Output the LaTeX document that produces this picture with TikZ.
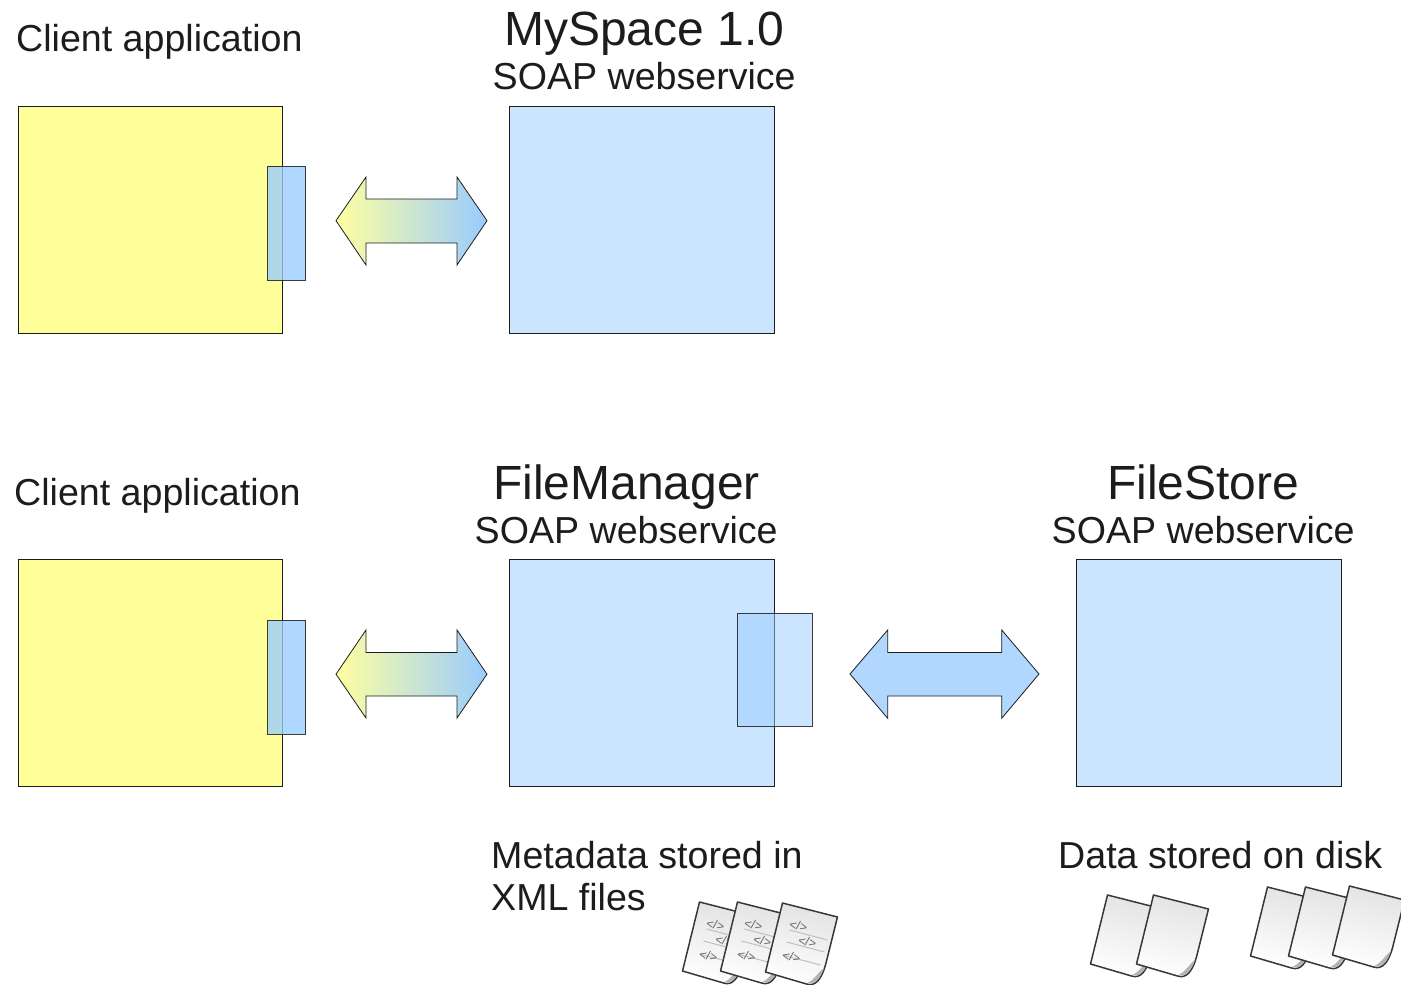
\documentclass[tikz,border=0pt]{standalone}
\usepackage{fontspec}
\setmainfont{Liberation Sans}
\usetikzlibrary{shadings}
\definecolor{boxyellow}{HTML}{FFFF99}
\definecolor{boxblue}{HTML}{CCE5FF}
\definecolor{portblue}{HTML}{99CCFF}
\definecolor{inkc}{HTML}{1C1C1C}
\definecolor{solidarrow}{HTML}{B2D7FF}
\tikzset{
  x=1pt,y=-1pt,
  bigbox/.style={draw=inkc,line width=0.8pt,rectangle,anchor=north west,inner sep=0pt,minimum width=264.6pt,minimum height=226.6pt},
  leftbox/.style={bigbox,minimum width=264.2pt,fill=boxyellow},
  narrowport/.style={draw=inkc,line width=0.8pt,rectangle,anchor=north west,inner sep=0pt,minimum width=38pt,minimum height=113.6pt,fill=portblue,fill opacity=.78,draw opacity=.85},
  wideport/.style={draw=inkc,line width=0.8pt,rectangle,anchor=north west,inner sep=0pt,minimum width=75.4pt,minimum height=113pt,fill=portblue,fill opacity=.5,draw opacity=.85},
  label/.style={anchor=base west,inner sep=0pt,text=inkc,font=\fontsize{37.6}{40}\selectfont},
  title/.style={anchor=base west,inner sep=0pt,text=inkc,font=\fontsize{48}{50}\selectfont},
  arrowline/.style={draw=inkc,line width=0.8pt,line join=miter},
  gradarrow/.style={arrowline,left color=boxyellow!92!white,right color=portblue},
  pageedge/.style={draw=black!78,line width=1.5pt,line join=round,top color=black!11,bottom color=white,shading angle=-14},
  codemark/.style={inner sep=0pt,rotate=-14,text=black!60,font=\fontsize{12.5}{12.5}\selectfont},
  codeline/.style={draw=black!25,line width=1pt},
  curl/.style={fill=black!30,draw=none}
}
\newcommand{\docpage}[2]{%
  \begin{scope}[shift={(#1,#2)}]
    \path[pageedge] (0,0) -- (55,14) -- (43,62) .. controls (39,76) and (33,84) .. (24,81) -- (-17,69) -- cycle;
    \path[curl] (41.5,65) .. controls (38,75) and (33,82) .. (25,80) .. controls (32,77) and (34,71) .. (41.5,65) -- cycle;
  \end{scope}}
\newcommand{\xmlpage}[2]{%
  \docpage{#1}{#2}%
  \begin{scope}[shift={(#1,#2)}]
    \draw[codeline] (7,27) -- (45,37);
    \draw[codeline] (4,39) -- (42,49);
    \draw[codeline] (0,52) -- (38,62);
    \node[codemark] (m1) at (16,23) {</>};
    \node[codemark] (m2) at (25,39) {</>};
    \node[codemark] (m3) at (9,54) {</>};
  \end{scope}}
\begin{document}
\begin{tikzpicture}
\useasboundingbox (0,0) rectangle (1401,985);
% boxes
\node[leftbox] (clientA) at (18,106) {};
\node[bigbox,fill=boxblue] (myspace) at (509,106) {};
\node[narrowport] (portA) at (267.3,166) {};
\node[leftbox] (clientB) at (18,559.3) {};
\node[bigbox,fill=boxblue] (filemanager) at (509,559.3) {};
\node[bigbox,fill=boxblue] (filestore) at (1076.3,559.3) {};
\node[narrowport] (portB) at (267.3,620) {};
\node[wideport] (portC) at (736.5,612.7) {};
% arrows
\path[gradarrow] (336,220.7) -- (366,177) -- (366,199) -- (457,199) -- (457,177) -- (487,220.7) -- (457,265) -- (457,243) -- (366,243) -- (366,265) -- cycle;
\path[gradarrow] (336,674.2) -- (366,630) -- (366,652.5) -- (457,652.5) -- (457,630) -- (487,674.2) -- (457,718) -- (457,696) -- (366,696) -- (366,718) -- cycle;
\path[arrowline,fill=solidarrow] (850,674) -- (887.7,630) -- (887.7,652.5) -- (1001.7,652.5) -- (1001.7,630) -- (1039,674) -- (1001.7,718.3) -- (1001.7,696) -- (887.7,696) -- (887.7,718.3) -- cycle;
% text
\node[label] (t1) at (16,51) {Client application};
\node[title] (t2) at (504,45.5) {MySpace 1.0};
\node[label] (t3) at (492.5,89) {SOAP webservice};
\node[label] (t4) at (14,505) {Client application};
\node[title] (t5) at (493,499) {FileManager};
\node[label] (t6) at (474.5,543) {SOAP webservice};
\node[title] (t7) at (1107,499) {FileStore};
\node[label] (t8) at (1051.5,543) {SOAP webservice};
\node[label] (t9) at (491,868) {Metadata stored in};
\node[label] (t10) at (491,910) {XML files};
\node[label] (t11) at (1058,868) {Data stored on disk};
% document icons
\begin{scope}
\clip (0,0) rectangle (1401,985);
\xmlpage{699.5}{902}
\xmlpage{737.5}{902}
\xmlpage{782.5}{903}
\docpage{1107.5}{895}
\docpage{1153.5}{895}
\docpage{1267.5}{887}
\docpage{1305.5}{887}
\docpage{1349.5}{886}
\end{scope}
\end{tikzpicture}
\end{document}
